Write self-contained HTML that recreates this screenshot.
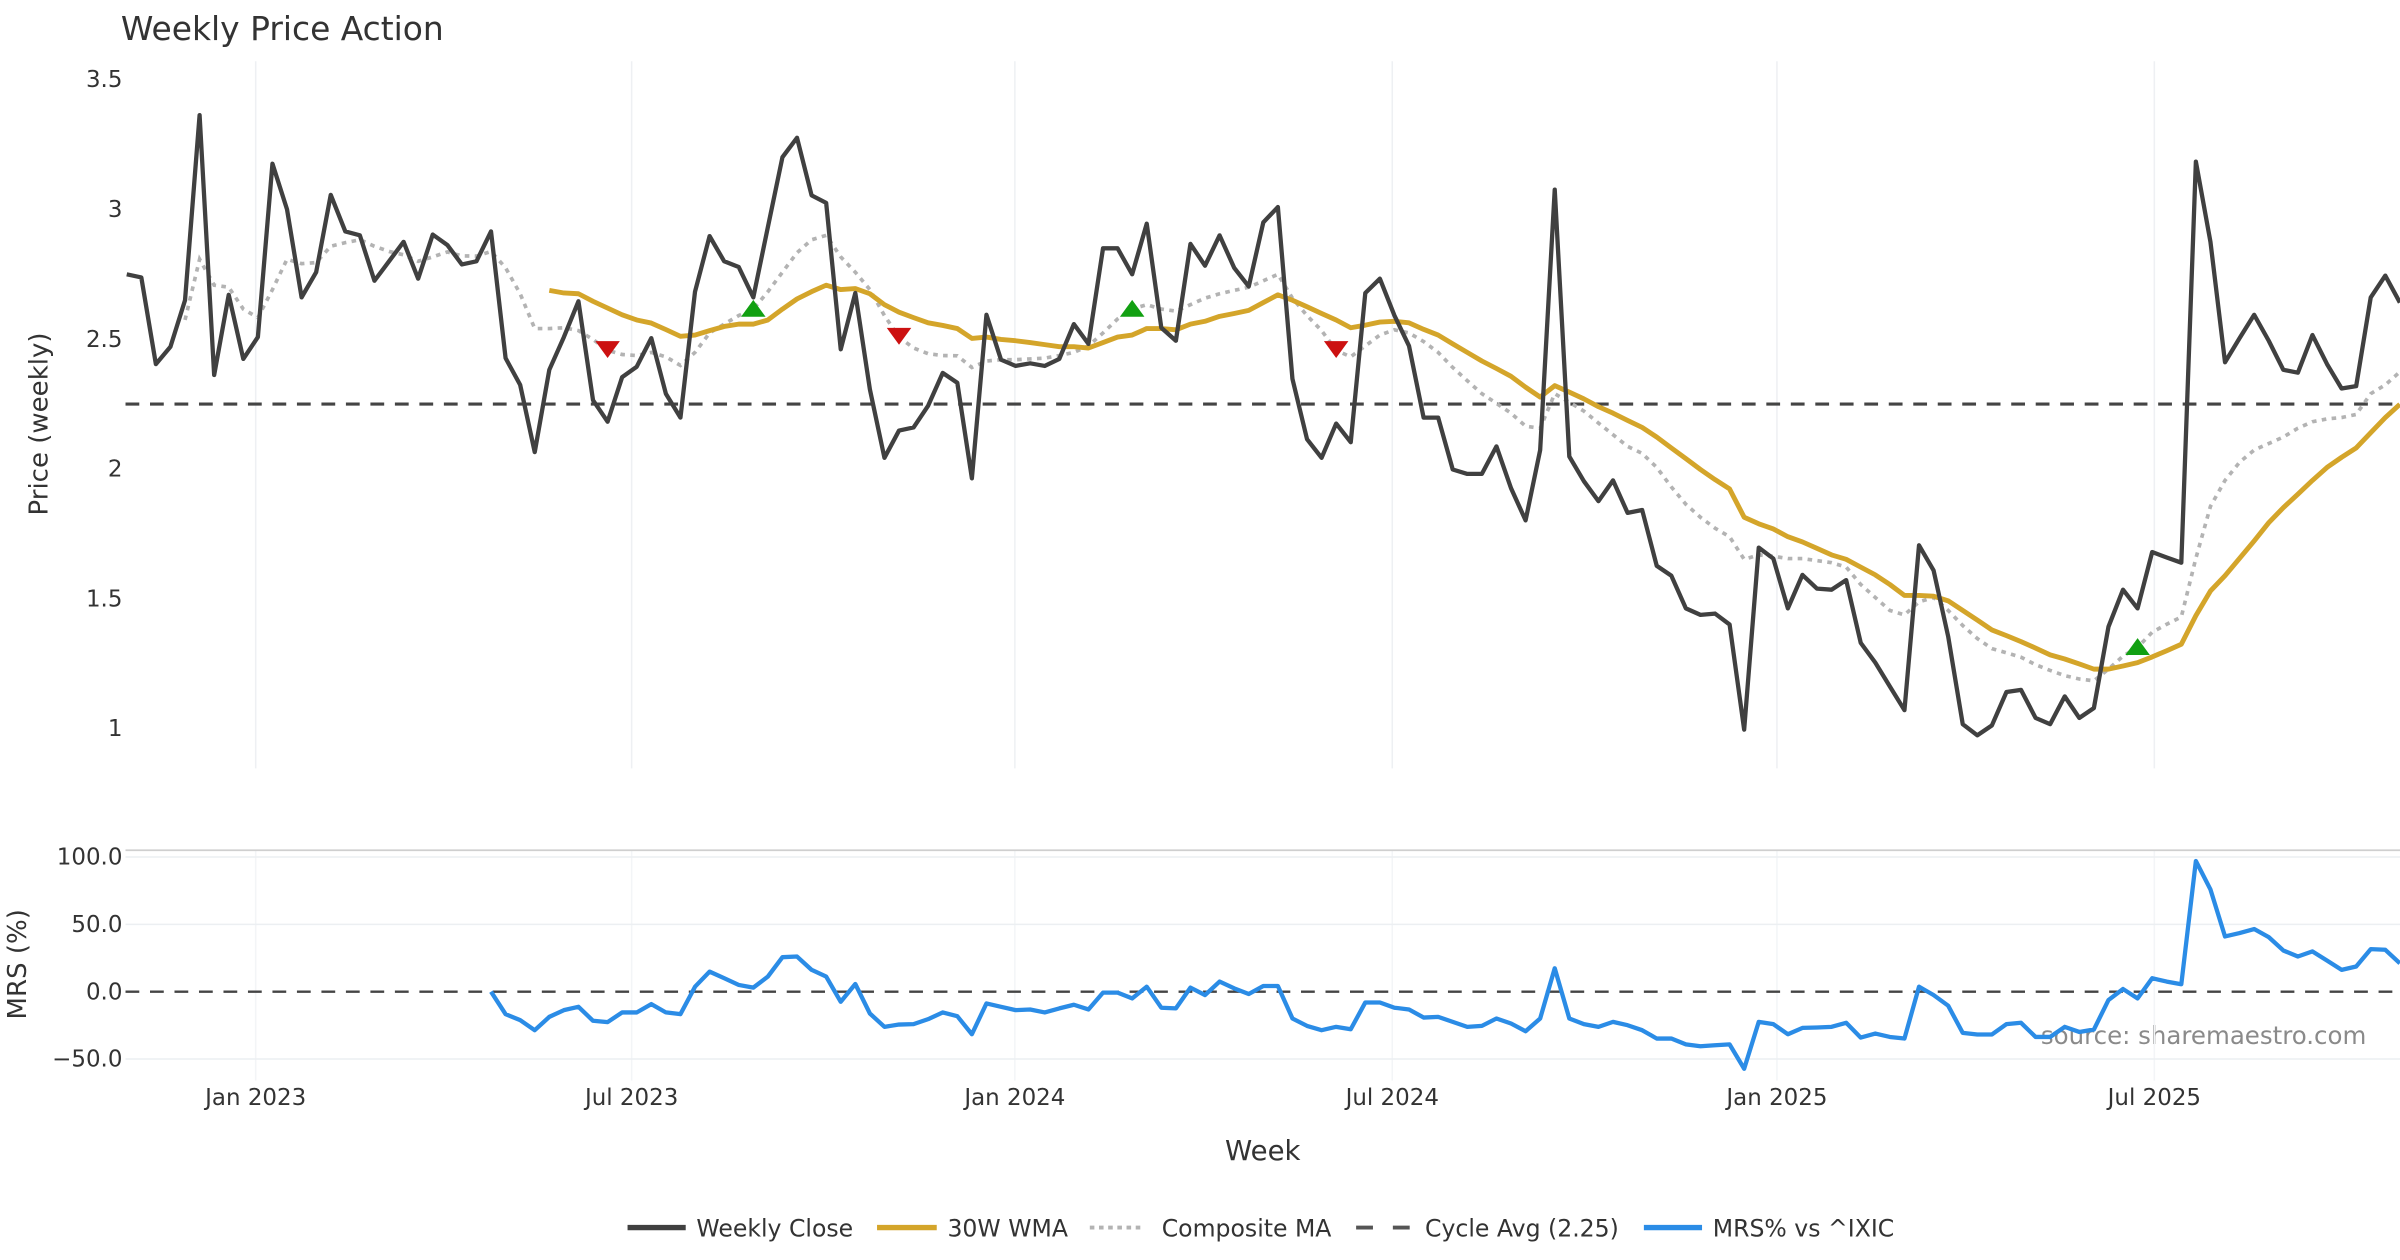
<!DOCTYPE html>
<html><head><meta charset="utf-8"><title>Weekly Price Action</title>
<style>html,body{margin:0;padding:0;background:#fff;}svg{display:block;font-family:"DejaVu Sans","Liberation Sans",sans-serif;}</style>
</head><body>
<svg id="chart" width="2400" height="1260" viewBox="0 0 1568 823.2" xmlns="http://www.w3.org/2000/svg">
<rect width="1568" height="823.2" fill="#fff"/>
<text x="79" y="26" font-size="21.5" fill="#333">Weekly Price Action</text>
<text transform="translate(31,277) rotate(-90)" text-anchor="middle" font-size="17" fill="#333">Price (weekly)</text>
<text transform="translate(17,630) rotate(-90)" text-anchor="middle" font-size="17" fill="#333">MRS (%)</text>
<text x="825" y="758" text-anchor="middle" font-size="18" fill="#333">Week</text>
<text x="1546" y="682" text-anchor="end" font-size="16" fill="#8a8a8a">source: sharemaestro.com</text>
<defs>
<clipPath id="pclip"><rect x="82" y="40" width="1486" height="462"/></clipPath>
<clipPath id="mclip"><rect x="82" y="556" width="1486" height="150"/></clipPath>
</defs>
<g id="grid"></g>
<g id="price" clip-path="url(#pclip)"></g>
<g id="mrs" clip-path="url(#mclip)"></g>
<g id="axes"></g>
<g id="legend"></g>
</svg>
<script>
const closeVals=[2.750,2.738,2.404,2.471,2.650,3.363,2.362,2.671,2.424,2.508,3.176,3.000,2.661,2.758,3.056,2.915,2.900,2.725,2.800,2.875,2.733,2.903,2.863,2.788,2.800,2.915,2.427,2.324,2.065,2.382,2.508,2.646,2.265,2.182,2.354,2.394,2.504,2.290,2.198,2.683,
2.897,2.800,2.778,2.661,2.932,3.201,3.276,3.054,3.025,2.461,2.678,2.307,2.043,2.148,2.160,2.244,2.370,2.332,1.964,2.594,2.421,2.397,2.407,2.397,2.424,2.558,2.482,2.850,2.850,2.750,2.945,2.544,2.494,2.867,2.783,2.900,2.775,2.703,2.950,
3.009,2.347,2.115,2.043,2.175,2.103,2.678,2.733,2.591,2.474,2.198,2.198,1.998,1.981,1.981,2.087,1.926,1.802,2.073,3.076,2.048,1.953,1.876,1.956,1.831,1.842,1.627,1.589,1.463,1.438,1.443,1.401,0.996,1.697,1.655,1.463,1.592,1.539,
1.535,1.572,1.330,1.254,1.162,1.071,1.706,1.609,1.355,1.017,0.974,1.012,1.141,1.149,1.041,1.017,1.124,1.041,1.079,1.392,1.535,1.463,1.680,1.659,1.639,3.184,2.875,2.411,2.504,2.594,2.494,2.382,2.371,2.516,2.404,2.310,2.319,2.661,2.745,2.641];
const wmaStart=29;
const wmaVals=[2.688,2.678,2.675,2.646,2.620,2.594,2.574,2.562,2.537,2.511,2.516,
2.533,2.549,2.558,2.558,2.574,2.616,2.655,2.683,2.708,2.691,2.695,2.675,2.633,2.604,2.583,2.563,2.553,2.541,2.503,2.508,2.499,2.494,2.487,2.479,2.471,2.471,2.466,2.487,2.508,2.516,2.541,2.541,2.536,2.558,2.569,2.588,2.599,2.611,2.641,
2.671,2.650,2.625,2.599,2.574,2.544,2.554,2.566,2.569,2.563,2.538,2.516,2.482,2.449,2.416,2.387,2.357,2.315,2.277,2.321,2.296,2.270,2.240,2.215,2.187,2.160,2.123,2.081,2.040,1.998,1.959,1.923,1.814,1.789,1.769,1.739,1.719,1.694,
1.669,1.652,1.622,1.592,1.555,1.513,1.513,1.510,1.492,1.455,1.418,1.380,1.358,1.335,1.310,1.284,1.268,1.249,1.229,1.229,1.241,1.254,1.276,1.300,1.325,1.435,1.530,1.589,1.656,1.723,1.793,1.851,1.903,1.956,2.006,2.045,2.081,2.140,2.198,2.249];
const compStart=4;
const compVals=[2.574,2.808,2.708,2.700,2.616,2.583,2.691,2.808,2.791,2.795,2.858,2.872,2.883,2.858,2.838,2.825,2.800,2.817,2.836,2.821,2.820,2.838,2.775,2.675,2.541,2.541,2.544,2.533,2.499,2.457,2.441,2.437,2.449,2.432,2.399,2.449,
2.524,2.558,2.591,2.616,2.683,2.758,2.833,2.883,2.900,2.817,2.758,2.691,2.591,2.508,2.466,2.444,2.437,2.436,2.391,2.416,2.421,2.421,2.424,2.427,2.437,2.449,2.474,2.524,2.578,2.616,2.633,2.616,2.608,2.633,2.658,2.675,2.688,2.700,2.725,
2.750,2.658,2.591,2.533,2.457,2.432,2.474,2.516,2.536,2.524,2.491,2.449,2.391,2.340,2.290,2.253,2.215,2.165,2.157,2.290,2.257,2.223,2.177,2.132,2.087,2.060,2.006,1.931,1.864,1.814,1.772,1.739,1.652,1.669,1.664,1.655,1.655,1.647,
1.639,1.622,1.555,1.505,1.455,1.438,1.488,1.505,1.455,1.397,1.347,1.308,1.292,1.275,1.246,1.224,1.204,1.191,1.184,1.229,1.279,1.313,1.371,1.402,1.430,1.656,1.856,1.956,2.026,2.073,2.098,2.123,2.157,2.182,2.193,2.198,2.210,2.290,2.324,2.374];
const cycleAvg=2.25;
const mrsStart=25;
const mrsVals=[0,-16.7,-21.1,-28.6,-18.7,-13.7,-11.2,-21.6,-22.6,-15.4,-15.4,-9.2,-15.4,-16.7,3.7,14.9,10.0,5.0,3.0,11.2,25.6,26.1,16.2,11.2,-7.5,5.7,-16.2,-26.1,-24.4,-24.1,-20.4,-15.4,-18.2,-31.6,-8.7,-11.2,-13.7,-13.2,-15.4,-12.4,-9.7,
-13.2,-0.7,-0.7,-5.0,3.7,-11.9,-12.4,3.0,-2.5,7.5,2.5,-1.7,4.2,4.2,-19.9,-25.4,-28.6,-26.1,-27.9,-8.0,-8.0,-11.9,-13.2,-19.2,-18.7,-22.4,-26.1,-25.4,-19.9,-23.6,-29.4,-19.9,17.4,-19.9,-24.1,-26.1,-22.4,-24.9,-28.6,-34.8,-34.8,-39.1,-40.5,-39.8,-39.1,
-57.2,-22.4,-24.1,-31.6,-26.9,-26.6,-26.1,-23.1,-34.1,-31.1,-33.6,-34.8,3.7,-2.5,-10.4,-30.6,-31.8,-31.8,-24.1,-23.1,-33.6,-33.6,-26.1,-29.9,-28.1,-6.2,2.0,-5.0,10.0,7.5,5.5,97.0,75.9,41.0,43.5,46.5,40.5,30.6,26.1,29.9,23.1,16.2,18.7,31.6,31.1,21.1];
const signalIdx=[33,43,53,69,83,138];
const signalType=["sell","buy","sell","buy","sell","buy"];
const priceTicks=[3.5,3,2.5,2,1.5,1];
const priceTickLabels=["3.5","3","2.5","2","1.5","1"];
const mrsTicks=[100,50,0,-50];
const mrsTickLabels=["100.0","50.0","0.0","\u221250.0"];
const dateTickWeeks=[8.85,34.65,60.95,86.85,113.25,139.15];
const dateTickLabels=["Jan 2023","Jul 2023","Jan 2024","Jul 2024","Jan 2025","Jul 2025"];

const NS="http://www.w3.org/2000/svg";
const X0=82.8,DX=9.52;
function xs(i){return X0+i*DX;}
function yp(p){return 52+(3.5-p)*169.6;}
function ym(v){return 647.9-v*0.88;}
function mk(tag,attrs,parent){const e=document.createElementNS(NS,tag);for(const k in attrs)e.setAttribute(k,attrs[k]);parent.appendChild(e);return e;}
const grid=document.getElementById('grid'),price=document.getElementById('price'),mrs=document.getElementById('mrs'),axes=document.getElementById('axes'),legend=document.getElementById('legend');

dateTickWeeks.forEach((w,k)=>{
  const x=xs(w);
  const g1=mk('line',{x1:x,x2:x,y1:40,y2:502,stroke:'#eef0f3','stroke-width':1},grid);
  
  
  const g2=mk('line',{x1:x,x2:x,y1:556,y2:706,stroke:'#f3f5f7','stroke-width':1},grid);
  
  
  const t=mk('text',{x:x,y:722,'text-anchor':'middle','font-size':15,fill:'#333'},axes);
  t.textContent=dateTickLabels[k];
  
  
});
priceTicks.forEach((p,k)=>{
  const t=mk('text',{x:80,y:yp(p)+5,'text-anchor':'end','font-size':15,fill:'#333'},axes);
  t.textContent=priceTickLabels[k];
  
  
});
const border=mk('line',{x1:82,x2:1568,y1:555.5,y2:555.5,stroke:'#cfcfcf','stroke-width':1.2},grid);


mrsTicks.forEach((v,k)=>{
  if(v!==0){const g=mk('line',{x1:82,x2:1568,y1:ym(v),y2:ym(v),stroke:'#eceff2','stroke-width':1},grid);
  
  }
  const t=mk('text',{x:80,y:ym(v)+5,'text-anchor':'end','font-size':15,fill:'#333'},axes);
  t.textContent=mrsTickLabels[k];
  
  
});
function pathFrom(vals,start,yf){return vals.map((v,i)=>(i?'L':'M')+xs(start+i).toFixed(2)+' '+yf(v).toFixed(2)).join(' ');}

const cyc=mk('line',{x1:82,x2:1568,y1:yp(cycleAvg),y2:yp(cycleAvg),stroke:'#444','stroke-width':2,'stroke-dasharray':'9,7'},price);


const comp=mk('path',{d:pathFrom(compVals,compStart,yp),fill:'none',stroke:'#b3b3b3','stroke-width':2.4,'stroke-dasharray':'3,3.5'},price);


const wma=mk('path',{d:pathFrom(wmaVals,wmaStart,yp),fill:'none',stroke:'#d4a52a','stroke-width':3.2,'stroke-linejoin':'round'},price);


const cl=mk('path',{d:pathFrom(closeVals,0,yp),fill:'none',stroke:'#404040','stroke-width':2.8,'stroke-linejoin':'round'},price);


signalIdx.forEach((i,k)=>{
  const x=xs(i),y=yp(compVals[i-compStart]);
  let pts;
  if(signalType[k]==='sell'){pts=`${x-8},${y-6} ${x+8},${y-6} ${x},${y+5}`;}
  else{pts=`${x-8},${y+5} ${x+8},${y+5} ${x},${y-6}`;}
  const m=mk('polygon',{points:pts,fill:signalType[k]==='sell'?'#cc1111':'#12a012'},price);
  
  
});
const zl=mk('line',{x1:82,x2:1568,y1:ym(0),y2:ym(0),stroke:'#444','stroke-width':1.6,'stroke-dasharray':'9,7'},mrs);


const ml=mk('path',{d:pathFrom(mrsVals,mrsStart,ym),fill:'none',stroke:'#2b8ce6','stroke-width':2.8,'stroke-linejoin':'round'},mrs);



const legItems=[
 {x:410,w:38,tx:455,label:'Weekly Close',stroke:'#404040',sw:3.5,dash:null},
 {x:573,w:39,tx:619,label:'30W WMA',stroke:'#d4a52a',sw:3.5,dash:null},
 {x:712,w:36,tx:759,label:'Composite MA',stroke:'#b3b3b3',sw:2.5,dash:'3,3'},
 {x:886,w:35,tx:931,label:'Cycle Avg (2.25)',stroke:'#555',sw:2.5,dash:'11,13'},
 {x:1074,w:38,tx:1119,label:'MRS% vs ^IXIC',stroke:'#2b8ce6',sw:3.5,dash:null}];
legItems.forEach(it=>{
  const g=mk('g',{},legend);
  
  
  const a={x1:it.x,x2:it.x+it.w,y1:802,y2:802,stroke:it.stroke,'stroke-width':it.sw};
  if(it.dash)a['stroke-dasharray']=it.dash;
  mk('line',a,g);
  const t=mk('text',{x:it.tx,y:808,'font-size':15.4,fill:'#333'},g);
  t.textContent=it.label;
});
</script>
</body></html>
